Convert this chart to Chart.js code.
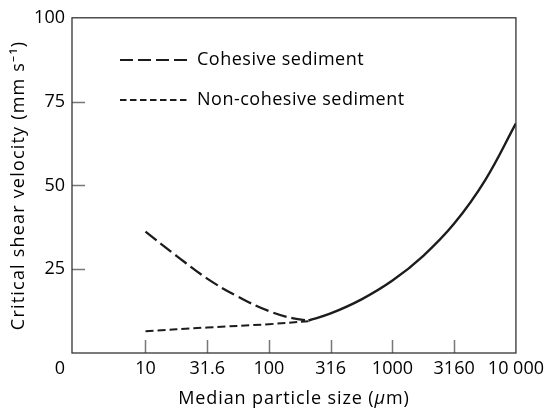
<!DOCTYPE html>
<html>
<head>
<meta charset="utf-8">
<script src="https://cdn.jsdelivr.net/npm/chart.js@4/dist/chart.umd.min.js"></script>
<style>
  html, body { margin: 0; padding: 0; background: #fff; }
  #wrap { width: 549px; height: 415px; }
</style>
</head>
<body>
<div id="wrap"><canvas id="grafico"></canvas></div>
<script>
// datos (tamano en um, velocidad en mm/s)
const cohesiveX = [10, 17.8, 31.6, 56.2, 100, 158, 209];
const cohesiveY = [36.2, 29.0, 22.2, 16.8, 12.5, 10.3, 9.7];

const nonCohesiveX = [10, 31.6, 100, 209];
const nonCohesiveY = [6.5, 7.6, 8.6, 9.5];

const commonX = [209, 316, 562, 1000, 1778, 3162, 5623, 10000];
const commonY = [9.7, 11.8, 16.0, 21.6, 29.0, 38.6, 51.5, 68.5];

const xTicks = [10, 31.6, 100, 316, 1000, 3160, 10000];
const xTickLabels = ['10', '31.6', '100', '316', '1000', '3160', '10 000'];
const yTicks = [25, 50, 75, 100];

const legendLabels = ['Cohesive sediment', 'Non-cohesive sediment'];

const FONT = "'Open Sans', 'Noto Sans', sans-serif";
const INK = '#1c1c1c';

function toPoints(xs, ys) {
    return xs.map((x, i) => ({ x: x, y: ys[i] }));
}

// marco, marcas de escala, leyenda y titulos
const extras = {
    id: 'extras',
    afterDraw(chart) {
        const ctx = chart.ctx;
        const area = chart.chartArea;
        const xs = chart.scales.x;
        const ys = chart.scales.y;
        ctx.save();

        // marcas hacia dentro
        ctx.strokeStyle = '#777';
        ctx.lineWidth = 1.5;
        ctx.beginPath();
        yTicks.slice(0, 3).forEach(v => {
            const py = Math.round(ys.getPixelForValue(v)) + 0.5;
            ctx.moveTo(area.left, py);
            ctx.lineTo(area.left + 13, py);
        });
        xTicks.slice(0, 6).forEach(v => {
            const px = Math.round(xs.getPixelForValue(v)) + 0.5;
            ctx.moveTo(px, area.bottom);
            ctx.lineTo(px, area.bottom - 13);
        });
        ctx.stroke();

        // marco
        ctx.strokeStyle = '#333';
        ctx.lineWidth = 1.3;
        ctx.strokeRect(area.left, area.top, area.right - area.left, area.bottom - area.top);

        // leyenda
        ctx.strokeStyle = INK;
        ctx.lineWidth = 2.2;
        ctx.setLineDash([13, 5]);
        ctx.beginPath();
        ctx.moveTo(120, 60);
        ctx.lineTo(188, 60);
        ctx.stroke();
        ctx.setLineDash([6.5, 3.5]);
        ctx.lineWidth = 1.8;
        ctx.beginPath();
        ctx.moveTo(120, 100);
        ctx.lineTo(188, 100);
        ctx.stroke();
        ctx.setLineDash([]);

        ctx.fillStyle = '#000';
        ctx.font = '18px ' + FONT;
        ctx.textBaseline = 'middle';
        ctx.textAlign = 'left';
        ctx.letterSpacing = '0.5px';
        ctx.fillText(legendLabels[0], 197, 60);
        ctx.fillText(legendLabels[1], 197, 100);

        // origen
        ctx.letterSpacing = '0px';
        ctx.textAlign = 'center';
        ctx.fillText('0', 60, 369);

        // titulo eje x con mu en cursiva
        ctx.letterSpacing = '0.9px';
        const cx = (area.left + area.right) / 2;
        const partA = 'Median particle size (';
        const partB = '\u03BC';
        const partC = 'm)';
        ctx.font = '18px ' + FONT;
        const wA = ctx.measureText(partA).width;
        const wC = ctx.measureText(partC).width;
        ctx.font = 'italic 18px ' + FONT;
        const wB = ctx.measureText(partB).width;
        let x0 = cx - (wA + wB + wC) / 2;
        ctx.textAlign = 'left';
        ctx.font = '18px ' + FONT;
        ctx.fillText(partA, x0, 399);
        ctx.font = 'italic 18px ' + FONT;
        ctx.fillText(partB, x0 + wA, 399);
        ctx.font = '18px ' + FONT;
        ctx.fillText(partC, x0 + wA + wB, 399);

        // titulo eje y
        ctx.letterSpacing = '1.2px';
        ctx.translate(19, (area.top + area.bottom) / 2);
        ctx.rotate(-Math.PI / 2);
        ctx.textAlign = 'center';
        ctx.fillText('Critical shear velocity (mm s\u207B\u00B9)', 0, 0);
        ctx.restore();
    }
};

new Chart(document.getElementById('grafico'), {
    type: 'line',
    data: {
        datasets: [
            {
                label: legendLabels[0],
                data: toPoints(cohesiveX, cohesiveY),
                borderColor: INK,
                borderWidth: 2.3,
                borderDash: [14, 5],
                pointRadius: 0,
                tension: 0.4
            },
            {
                label: legendLabels[1],
                data: toPoints(nonCohesiveX, nonCohesiveY),
                borderColor: INK,
                borderWidth: 2,
                borderDash: [8, 4],
                pointRadius: 0,
                tension: 0.4
            },
            {
                label: 'common',
                data: toPoints(commonX, commonY),
                borderColor: INK,
                borderWidth: 2.4,
                pointRadius: 0,
                tension: 0.4
            }
        ]
    },
    options: {
        responsive: true,
        maintainAspectRatio: false,
        animation: false,
        layout: { padding: { left: 0, top: 14, right: 30, bottom: 0 } },
        plugins: {
            legend: { display: false },
            tooltip: { enabled: false }
        },
        scales: {
            x: {
                type: 'logarithmic',
                min: 2.54,
                max: 10000,
                grid: { display: false, drawTicks: false },
                border: { display: false },
                afterBuildTicks: (scale) => {
                    scale.ticks = xTicks.map(v => ({ value: v }));
                },
                afterFit: (scale) => { scale.height = 62; },
                ticks: {
                    autoSkip: false,
                    maxRotation: 0,
                    padding: 5,
                    color: '#000',
                    font: { family: FONT, size: 18 },
                    callback: (value, index) => xTickLabels[index]
                }
            },
            y: {
                min: 0,
                max: 100,
                grid: { display: false, drawTicks: false },
                border: { display: false },
                afterBuildTicks: (scale) => {
                    scale.ticks = yTicks.map(v => ({ value: v }));
                },
                afterFit: (scale) => { scale.width = 72; },
                ticks: {
                    padding: 7,
                    color: '#000',
                    font: { family: FONT, size: 18 }
                }
            }
        }
    },
    plugins: [extras]
});
</script>
</body>
</html>
